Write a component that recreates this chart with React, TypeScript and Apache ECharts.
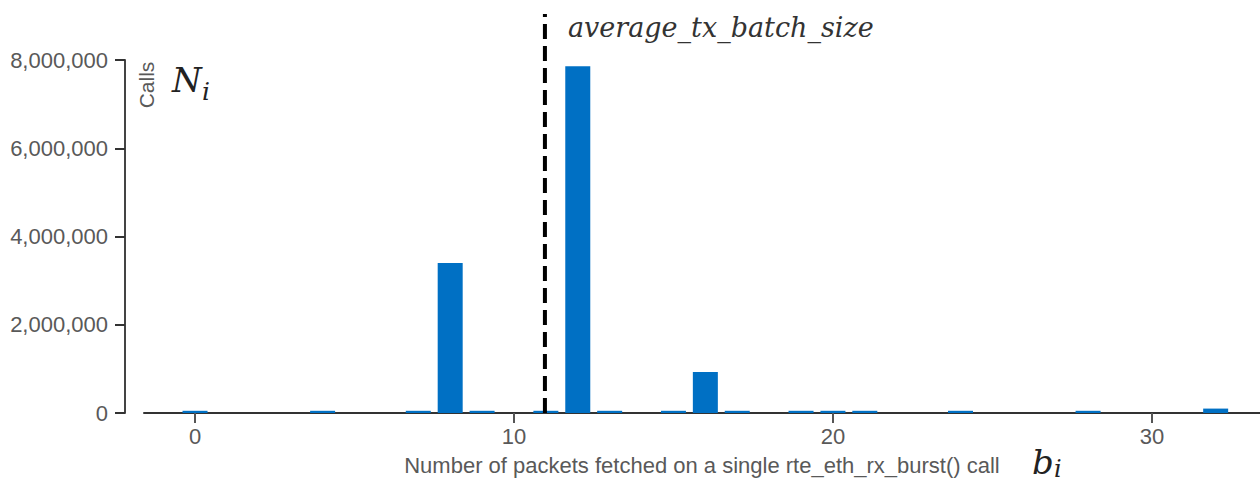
import React, { useEffect, useRef } from "react";
import * as echarts from "echarts";

// ---- data ----
const packetCounts = [0, 4, 7, 8, 9, 11, 12, 13, 15, 16, 17, 19, 20, 21, 24, 28, 32];
const callCounts = [50000, 50000, 50000, 3400000, 50000, 50000, 7860000, 50000, 50000, 930000, 50000, 50000, 50000, 50000, 50000, 50000, 100000];
const averageTxBatchSize = 10.97;
const xTickValues = [0, 10, 20, 30];
const yMin = 0;
const yMax = 8000000;
const yInterval = 2000000;
const xMin = -1.6;
const xMax = 33.39;

const xAxisTitle = "Number of packets fetched on a single rte_eth_rx_burst() call";
const yAxisTitle = "Calls";
const avgLabel = "average_tx_batch_size";

const SANS = "'Liberation Sans', Arial, sans-serif";
const SERIF = "'DejaVu Serif', serif";
const GREY = "#595959";

export default function App() {
  const ref = useRef<HTMLDivElement>(null);
  useEffect(() => {
    if (!ref.current) return;
    const chart = echarts.init(ref.current, undefined, { renderer: "svg" });
    const barData = packetCounts.map((x, i) => [x, callCounts[i]]);
    chart.setOption({
      animation: false,
      backgroundColor: "#ffffff",
      grid: [
        { left: 144, right: 0, top: 60, bottom: 71, containLabel: false },
        { left: 144, right: 0, top: 14, bottom: 71, containLabel: false },
      ],
      xAxis: [
        {
          type: "value",
          gridIndex: 0,
          min: xMin,
          max: xMax,
          name: xAxisTitle,
          nameLocation: "middle",
          nameGap: 41,
          nameTextStyle: { color: GREY, fontSize: 22, fontFamily: SANS },
          axisLine: { show: true, onZero: false, lineStyle: { color: "#333333", width: 2 } },
          axisTick: { show: true, customValues: xTickValues, length: 10, lineStyle: { color: "#555555", width: 2 } },
          axisLabel: { customValues: xTickValues, color: GREY, fontSize: 22, fontFamily: SANS, margin: 12 },
          splitLine: { show: false },
        },
        {
          type: "value",
          gridIndex: 1,
          min: xMin,
          max: xMax,
          show: false,
        },
      ],
      yAxis: [
        {
          type: "value",
          gridIndex: 0,
          min: yMin,
          max: yMax,
          interval: yInterval,
          offset: 19,
          axisLine: { show: true, onZero: false, lineStyle: { color: "#444444", width: 2 } },
          axisTick: { show: true, length: 10, lineStyle: { color: "#333333", width: 2 } },
          axisLabel: {
            color: GREY,
            fontSize: 22,
            fontFamily: SANS,
            margin: 17,
            formatter: (v: number) => v.toLocaleString("en-US"),
          },
          splitLine: { show: false },
        },
        { type: "value", gridIndex: 1, min: 0, max: 1, show: false },
      ],
      series: [
        {
          type: "bar",
          xAxisIndex: 0,
          yAxisIndex: 0,
          data: barData,
          barWidth: 25,
          itemStyle: { color: "#0070c4" },
        },
        {
          type: "line",
          xAxisIndex: 1,
          yAxisIndex: 1,
          data: [
            [averageTxBatchSize, 0],
            [averageTxBatchSize, 1],
          ],
          symbol: "none",
          lineStyle: { color: "#000000", width: 4, type: [15, 7] },
          z: 5,
        },
      ],
      graphic: [
        {
          type: "text",
          x: 146,
          y: 85,
          rotation: Math.PI / 2,
          style: { text: yAxisTitle, fill: GREY, fontSize: 21, fontFamily: SANS, align: "center", verticalAlign: "middle" },
        },
        {
          type: "text",
          x: 172,
          y: 80,
          style: { text: "N", fill: "#222222", fontSize: 34, fontStyle: "italic", fontFamily: SERIF, align: "left", verticalAlign: "middle" },
        },
        {
          type: "text",
          x: 202,
          y: 91,
          style: { text: "i", fill: "#222222", fontSize: 25, fontStyle: "italic", fontFamily: SERIF, align: "left", verticalAlign: "middle" },
        },
        {
          type: "text",
          x: 1032,
          y: 462,
          style: { text: "b", fill: "#222222", fontSize: 34, fontStyle: "italic", fontFamily: SERIF, align: "left", verticalAlign: "middle" },
        },
        {
          type: "text",
          x: 1054,
          y: 469,
          style: { text: "i", fill: "#222222", fontSize: 24, fontStyle: "italic", fontFamily: SERIF, align: "left", verticalAlign: "middle" },
        },
        {
          type: "text",
          x: 568,
          y: 27,
          style: { text: avgLabel, fill: "#333333", fontSize: 27, fontStyle: "italic", fontFamily: SERIF, align: "left", verticalAlign: "middle" },
        },
      ],
    });
    return () => chart.dispose();
  }, []);
  return (
    <div
      ref={ref}
      style={{ position: "absolute", left: 0, top: 0, width: 1260, height: 484, background: "#fff" }}
    />
  );
}
